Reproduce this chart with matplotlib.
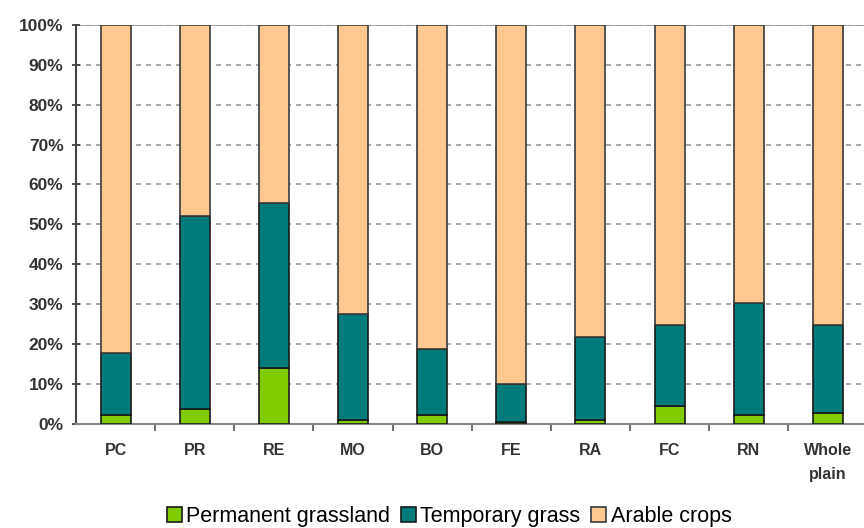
import numpy as np
import matplotlib.pyplot as plt
from matplotlib.ticker import FuncFormatter, FixedLocator

# shares of land use per sub-area (%)
areas = ['PC', 'PR', 'RE', 'MO', 'BO', 'FE', 'RA', 'FC', 'RN', 'Whole\nplain']
permanent = np.array([2.3, 3.7, 14.0, 1.0, 2.3, 0.4, 1.0, 4.5, 2.3, 2.7])
temporary_top = np.array([17.8, 52.2, 55.3, 27.6, 18.9, 10.0, 21.7, 24.9, 30.2, 24.9])
temporary = temporary_top - permanent
arable = 100 - temporary_top

plt.rcParams['font.family'] = ['Liberation Sans', 'DejaVu Sans']

fig = plt.figure(figsize=(8.64, 5.28), dpi=100)
ax = fig.add_axes([0.088, 0.197, 0.916, 0.756])

x = np.arange(len(areas))
w = 0.38
ax.bar(x, permanent, w, color='#80cc00', edgecolor='#1a1a1a', linewidth=1.2,
       label='Permanent grassland', zorder=3)
ax.bar(x, temporary, w, bottom=permanent, color='#007b7b', edgecolor='#1a1a1a',
       linewidth=1.2, label='Temporary grass', zorder=3)
ax.bar(x, arable, w, bottom=temporary_top, color='#ffc891', edgecolor='#3a3a3a',
       linewidth=1.2, label='Arable crops', zorder=3)

ax.set_xlim(-0.5, len(areas) - 0.5)
ax.set_ylim(0, 100)
ax.set_yticks(np.arange(0, 101, 10))
ax.yaxis.set_major_formatter(FuncFormatter(lambda v, p: '%d%%' % v))
ax.grid(axis='y', color='#999999', linestyle=(0, (3, 3)), linewidth=1.2, zorder=0)
ax.axhline(100, color='#999999', linewidth=1.2, zorder=1)

ax.set_xticks(x)
ax.set_xticklabels(areas, fontsize=11.5, fontweight='bold', color='#333333',
                   linespacing=1.7)
ax.tick_params(axis='x', length=0, pad=14)
ax.xaxis.set_minor_locator(FixedLocator(x[:-1] + 0.5))
ax.tick_params(axis='x', which='minor', length=5, width=1.2, color='#555555',
               direction='out')
ax.tick_params(axis='y', length=6, width=1.2, color='#333333', direction='inout',
               labelsize=12.5, pad=6)
for lab in ax.get_yticklabels():
    lab.set_fontweight('bold')
    lab.set_color('#333333')

for s in ['top', 'right']:
    ax.spines[s].set_visible(False)
ax.spines['left'].set_color('#444444')
ax.spines['left'].set_linewidth(1.5)
ax.spines['bottom'].set_color('#888888')
ax.spines['bottom'].set_linewidth(1.5)

fig.legend(loc='lower center', bbox_to_anchor=(0.52, -0.035), ncol=3,
           frameon=False, handlelength=0.7, handleheight=0.7,
           handletextpad=0.2, columnspacing=0.5,
           prop={'family': ['Liberation Sans'], 'size': 15.5})

fig.savefig('out.png', dpi=100)
